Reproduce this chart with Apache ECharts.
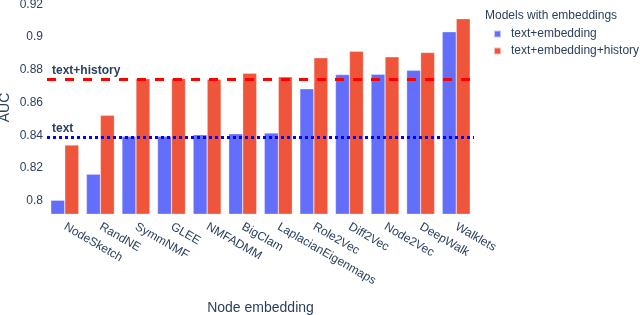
<!DOCTYPE html>
<html><head><meta charset="utf-8">
<script src="https://cdn.jsdelivr.net/npm/echarts@6/dist/echarts.min.js"></script>
<style>html,body{margin:0;padding:0;background:#fff}#c{width:640px;height:315px}</style>
</head><body><div id="c"></div>
<script>
const categories = ['NodeSketch','RandNE','SymmNMF','GLEE','NMFADMM','BigClam','LaplacianEigenmaps','Role2Vec','Diff2Vec','Node2Vec','DeepWalk','Walklets'];
const seriesNames = ['text+embedding','text+embedding+history'];
const textEmbedding = [0.8004,0.8163,0.8394,0.8394,0.8404,0.8410,0.8414,0.8684,0.8771,0.8773,0.8797,0.9032];
const textEmbeddingHistory = [0.8341,0.8522,0.8745,0.8747,0.8742,0.8779,0.8757,0.8873,0.8914,0.8879,0.8906,0.9112];
const baselineNames = ['text+history','text'];
const baselineValues = [0.874, 0.8388];
const yTicks = [0.8,0.82,0.84,0.86,0.88,0.9,0.92];

const FONT = '"Liberation Sans", Arial, sans-serif';
const INK = '#2a3f5f';
const chart = echarts.init(document.getElementById('c'), null, {renderer:'canvas'});
chart.setOption({
  animation:false,
  backgroundColor:'#fff',
  textStyle:{fontFamily:FONT,color:INK},
  title:{text:'Models with embeddings',left:485,top:10,padding:0,textStyle:{fontFamily:FONT,fontSize:12,fontWeight:'normal',color:INK}},
  legend:{orient:'vertical',left:493,top:28,padding:0,icon:'rect',itemWidth:7,itemHeight:7,itemGap:5,
    data:seriesNames,textStyle:{fontFamily:FONT,fontSize:12,color:INK,padding:[0,0,0,5]}},
  grid:{left:47,right:166,top:1,bottom:101,containLabel:false,outerBoundsMode:'none'},
  xAxis:{type:'category',data:categories,name:'Node embedding',nameLocation:'middle',nameGap:87,nameMoveOverlap:false,
    nameTextStyle:{fontFamily:FONT,fontSize:14,color:INK},
    axisLine:{show:false},axisTick:{show:false},
    axisLabel:{rotate:-30,interval:0,margin:12,fontFamily:FONT,fontSize:12,color:INK}},
  yAxis:{type:'value',min:0.792,max:0.922,interval:0.002,name:'AUC',nameLocation:'middle',nameGap:35,nameMoveOverlap:false,
    nameTextStyle:{fontFamily:FONT,fontSize:14,color:INK},
    splitLine:{show:false},axisLine:{show:false},axisTick:{show:false},
    axisLabel:{interval:0,margin:4,fontFamily:FONT,fontSize:12,color:INK,
      formatter:function(v){const t=yTicks.find(x=>Math.abs(x-v)<1e-6);return t===undefined?'':String(t);}}},
  series:[
    {name:seriesNames[0],type:'bar',data:textEmbedding,barWidth:14,barGap:'0%',
      itemStyle:{color:'#636efa',borderColor:'rgba(255,255,255,0.6)',borderWidth:0.5},
      markLine:{silent:true,symbol:'none',z:10,precision:4,
        data:[{yAxis:baselineValues[1],name:baselineNames[1]}],
        lineStyle:{color:'#0000ff',width:3,type:[3,3]},
        label:{show:true,position:'insideStartTop',formatter:'{b}',distance:[5,3],fontFamily:FONT,fontSize:12,fontWeight:'bold',color:INK}}},
    {name:seriesNames[1],type:'bar',data:textEmbeddingHistory,barWidth:14,barGap:'0%',
      itemStyle:{color:'#EF553B',borderColor:'rgba(255,255,255,0.6)',borderWidth:0.5},
      markLine:{silent:true,symbol:'none',z:10,precision:4,
        data:[{yAxis:baselineValues[0],name:baselineNames[0]}],
        lineStyle:{color:'#ff0000',width:3,type:[9,9]},
        label:{show:true,position:'insideStartTop',formatter:'{b}',distance:[5,3],fontFamily:FONT,fontSize:12,fontWeight:'bold',color:INK}}}
  ]
});
</script></body></html>
